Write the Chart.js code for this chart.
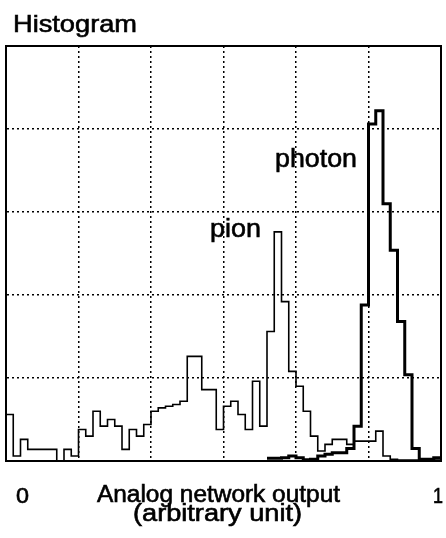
<!DOCTYPE html>
<html>
<head>
<meta charset="utf-8">
<script src="https://cdn.jsdelivr.net/npm/chart.js@4.4.1/dist/chart.umd.min.js"></script>
<style>
  body { margin: 0; background: #fff; }
  #wrap { width: 446px; height: 538px; position: relative; }
</style>
</head>
<body>
<div id="wrap"><canvas id="histo"></canvas></div>
<script>

// 60 bins between 0 and 1 (arbitrary counts)
const binCount = 60;
const pionCounts = [
  28, 3, 13, 7, 7, 7, 7, 0, 7, 3,
  19, 15, 30, 21, 25, 21, 7, 19, 15, 22,
  30, 32, 33, 34, 36, 63, 63, 43, 43, 19,
  33, 36, 28, 19, 48, 21, 78, 138, 96, 54,
  45, 30, 15, 6, 10, 13, 13, 10, 12, 12,
  12, 18, 3, 1, 0.5, 0.5, 0.5, 0.5, 0.5, 0.5
];
const photonCounts = [
  null, null, null, null, null, null, null, null, null, null,
  null, null, null, null, null, null, null, null, null, null,
  null, null, null, null, null, null, null, null, null, null,
  null, null, null, null, null, null, 1.6, 1.6, 2, 3,
  2, 0.8, 1, 3, 4, 5, 5, 7.5, 21, 94,
  203, 211, 155, 127, 84, 52, 7.5, 1, 1, 2
];
const xTickLabels = ['0', '1'];
const axisTitle = ['Analog network output', '(arbitrary unit)'];
const peakLabels = ['pion', 'photon'];
const yMax = 250;

// step points: left edge of every bin + closing point on the right
function toSteps(counts) {
  const pts = counts.map((v, i) => ({ x: i, y: v }));
  pts.push({ x: counts.length, y: counts[counts.length - 1] });
  return pts;
}

const FONT = '"Liberation Sans", Arial, Helvetica, sans-serif';

// draw a label stretched to a given width (the scan is wide), a bit heavy
function putText(ctx, txt, x, y, w) {
  const m = ctx.measureText(txt).width;
  ctx.save();
  ctx.translate(x, y);
  ctx.scale(w / m, 1);
  ctx.fillText(txt, 0, 0);
  ctx.strokeText(txt, 0, 0);
  ctx.restore();
}

const paperText = {
  id: 'paperText',
  afterDraw(chart) {
    const ctx = chart.ctx;
    const a = chart.chartArea;
    ctx.save();
    ctx.fillStyle = '#000';
    ctx.strokeStyle = '#000';
    ctx.lineWidth = 0.6;
    ctx.textBaseline = 'alphabetic';
    ctx.font = '24px ' + FONT;
    putText(ctx, 'Histogram', 13, 32, 124);
    ctx.font = '26px ' + FONT;
    putText(ctx, peakLabels[1], a.left + 269, 167, 82);
    putText(ctx, peakLabels[0], a.left + 204, 237, 51);
    ctx.font = '22px ' + FONT;
    putText(ctx, xTickLabels[0], 16, 503, 13);
    putText(ctx, xTickLabels[1], 433, 503, 10);
    ctx.font = '23px ' + FONT;
    putText(ctx, axisTitle[0], 97, 502, 243);
    putText(ctx, axisTitle[1], 133, 521, 169);
    ctx.restore();
  }
};

const frameAxis = (pos, min, max) => ({
  type: 'linear', position: pos, min: min, max: max,
  ticks: { display: false },
  grid: { display: false, drawTicks: false },
  border: { display: true, color: '#000', width: 2 }
});

new Chart(document.getElementById('histo'), {
  type: 'line',
  data: {
    datasets: [
      {
        label: 'pion',
        data: toSteps(pionCounts),
        stepped: true,
        borderColor: '#000',
        borderWidth: 1.6,
        pointRadius: 0,
        fill: false
      },
      {
        label: 'photon',
        data: toSteps(photonCounts),
        stepped: true,
        borderColor: '#000',
        borderWidth: 3,
        pointRadius: 0,
        fill: false
      }
    ]
  },
  options: {
    responsive: true,
    maintainAspectRatio: false,
    animation: false,
    layout: { padding: { left: 6, right: 5, top: 46, bottom: 77 } },
    plugins: { legend: { display: false }, tooltip: { enabled: false }, title: { display: false } },
    scales: {
      x: {
        type: 'linear', min: 0, max: binCount,
        ticks: { display: false, stepSize: 10 },
        grid: { color: '#000', lineWidth: 1.5, drawTicks: false },
        border: { display: true, color: '#000', width: 2, dash: [2, 3] }
      },
      y: {
        type: 'linear', min: 0, max: yMax,
        ticks: { display: false, stepSize: 50 },
        grid: { color: '#000', lineWidth: 1.5, drawTicks: false },
        border: { display: true, color: '#000', width: 2, dash: [2, 3] }
      },
      xTop: frameAxis('top', 0, binCount),
      yRight: frameAxis('right', 0, yMax)
    }
  },
  plugins: [paperText]
});
</script>
</body>
</html>
